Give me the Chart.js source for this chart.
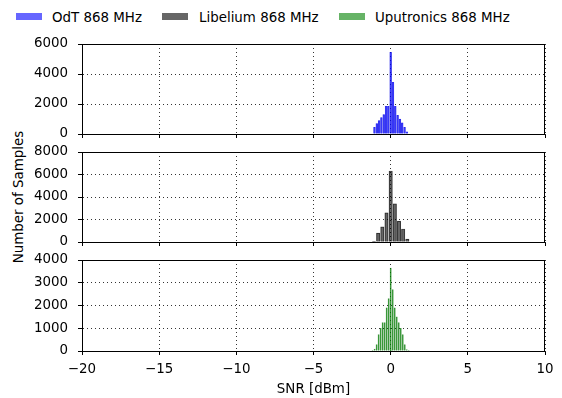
<!DOCTYPE html>
<html>
<head>
<meta charset="utf-8">
<script src="https://cdn.jsdelivr.net/npm/chart.js@4"></script>
<style>
  body { margin: 0; background: #fff; }
  #wrap { position: relative; width: 562px; height: 398px; font-family: "DejaVu Sans", sans-serif; }
  canvas { position: absolute; left: 0; }
  .key { position: absolute; top: 10px; font-size: 13.4px; line-height: 16px; color: #000; }
  .sw { position: absolute; top: 13px; width: 26px; height: 7px; }
  #ylab { position: absolute; left: 19px; top: 197px; font-size: 13.4px; line-height: 16px;
          white-space: nowrap; transform: translate(-50%, -50%) rotate(-90deg); }
</style>
</head>
<body>
<div id="wrap">
  <div class="sw" style="left:16px;background:#6666ff"></div>
  <div class="key" style="left:52px">OdT 868 MHz</div>
  <div class="sw" style="left:162px;background:#666666"></div>
  <div class="key" style="left:199px">Libelium 868 MHz</div>
  <div class="sw" style="left:339px;background:#66b366"></div>
  <div class="key" style="left:375px">Uputronics 868 MHz</div>
  <div id="ylab">Number of Samples</div>
  <canvas id="odtChart" width="562" height="106" style="top:36px"></canvas>
  <canvas id="libChart" width="562" height="106" style="top:144px"></canvas>
  <canvas id="upuChart" width="562" height="146" style="top:252px"></canvas>
</div>
<script>
// Histogram data (SNR bin centre in dB, number of samples)
const snrOdt = [-1.05, -0.9, -0.75, -0.6, -0.45, -0.3, -0.15, 0, 0.15, 0.3, 0.45, 0.6, 0.75, 0.9, 1.05];
const countOdt = [450, 700, 900, 1100, 1300, 1850, 1850, 5450, 3450, 1850, 1250, 1000, 750, 450, 150];

const snrLib = [-1.08, -0.81, -0.54, -0.27, 0, 0.27, 0.54, 0.81, 1.08];
const countLib = [60, 800, 1350, 2600, 6300, 3400, 1850, 1150, 250];

const snrUpu = [-1.17, -1.04, -0.91, -0.78, -0.65, -0.52, -0.39, -0.26, -0.13, 0, 0.13, 0.26, 0.39, 0.52, 0.65, 0.78, 0.91, 1.04, 1.17];
const countUpu = [30, 80, 280, 720, 1000, 1250, 1250, 1900, 2300, 3650, 2700, 1900, 1500, 1250, 1000, 720, 280, 60, 10];

const xTicks = [-20, -15, -10, -5, 0, 5, 10];
const yMaxOdt = 6000, yMaxLib = 8000, yMaxUpu = 4000;
const yStepOdt = 2000, yStepLib = 2000, yStepUpu = 1000;

Chart.defaults.font.family = '"DejaVu Sans", sans-serif';
Chart.defaults.font.size = 13.4;
Chart.defaults.color = '#000';

// draws the full black frame around each panel
const frame = {
    id: 'frame',
    afterDraw(chart) {
        const a = chart.chartArea;
        const c = chart.ctx;
        c.save();
        c.strokeStyle = '#000';
        c.lineWidth = 1;
        c.strokeRect(Math.round(a.left) + 0.5, Math.round(a.top) + 0.5,
            Math.round(a.right - a.left) - 1, Math.round(a.bottom - a.top));
        c.restore();
    }
};

const gridStyle = {
    color: '#000',
    lineWidth: 0.8,
    tickLength: 4,
    tickWidth: 1,
    tickBorderDash: []
};
const borderStyle = { color: '#000', width: 1, dash: [1, 3] };

function noOverflow(s) {
    s.paddingTop = 0;
    s.paddingBottom = 0;
    s.paddingLeft = 0;
    s.paddingRight = 0;
}

function makePanel(id, snr, counts, color, edge, barWidth, yMax, yStep, bottom) {
    const points = snr.map((s, i) => ({ x: s, y: counts[i] }));
    const xScale = {
        type: 'linear',
        min: -20,
        max: 10,
        offset: false,
        z: 1,
        afterBuildTicks: s => { s.ticks = xTicks.map(v => ({ value: v })); },
        afterFit: s => { s.height = bottom ? 47 : 8; noOverflow(s); },
        grid: Object.assign({ offset: false }, gridStyle),
        border: borderStyle,
        ticks: {
            display: bottom,
            padding: 6,
            maxRotation: 0,
            callback: v => String(v).replace('-', '\u2212')
        },
        title: {
            display: bottom,
            text: 'SNR [dBm]',
            padding: { top: 0, bottom: 0 }
        }
    };
    const yScale = {
        min: 0,
        max: yMax,
        z: 1,
        afterFit: s => { s.width = 82; noOverflow(s); },
        grid: Object.assign({}, gridStyle),
        border: borderStyle,
        ticks: { stepSize: yStep, padding: 10, callback: v => String(v) }
    };
    return new Chart(document.getElementById(id), {
        type: 'bar',
        data: {
            datasets: [{
                data: points,
                backgroundColor: color,
                borderColor: edge,
                borderWidth: 0.4,
                barThickness: barWidth
            }]
        },
        options: {
            responsive: false,
            animation: false,
            devicePixelRatio: 1,
            layout: { padding: { top: 8, right: 17, left: 0, bottom: 0 } },
            plugins: { legend: { display: false }, tooltip: { enabled: false } },
            scales: { x: xScale, y: yScale }
        },
        plugins: [frame]
    });
}

makePanel('odtChart', snrOdt, countOdt, 'rgba(0,0,255,0.6)', 'rgba(0,0,220,0.7)', 1.8, yMaxOdt, yStepOdt, false);
makePanel('libChart', snrLib, countLib, 'rgba(0,0,0,0.6)', 'rgba(0,0,0,0.65)', 3.4, yMaxLib, yStepLib, false);
makePanel('upuChart', snrUpu, countUpu, 'rgba(0,128,0,0.6)', 'rgba(0,110,0,0.6)', 1.3, yMaxUpu, yStepUpu, true);
</script>
</body>
</html>
